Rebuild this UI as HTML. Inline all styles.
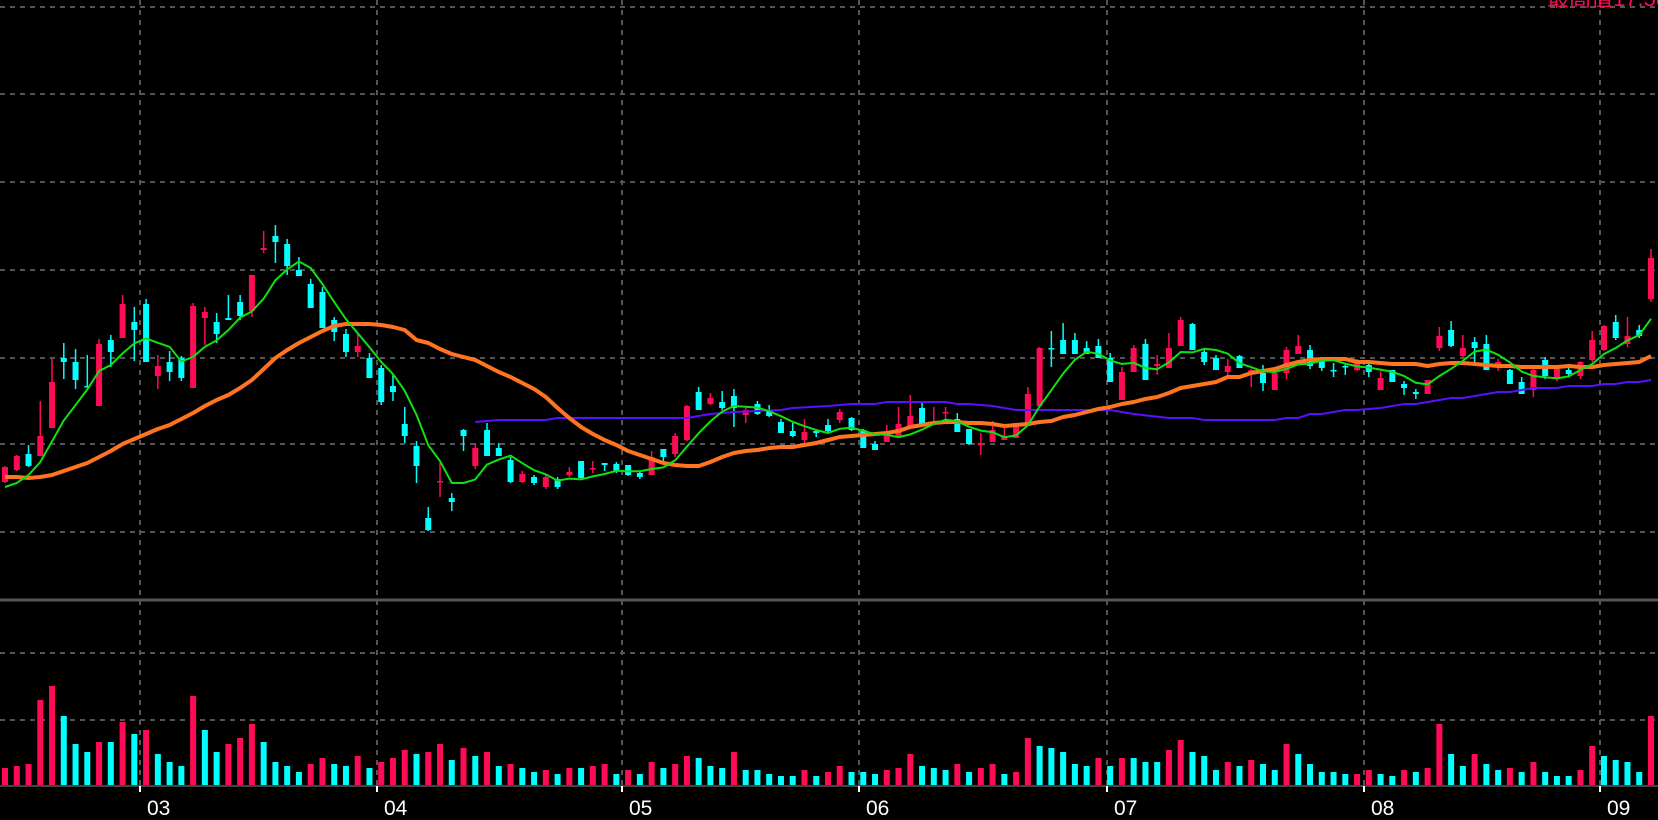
<!DOCTYPE html>
<html><head><meta charset="utf-8"><style>
html,body{margin:0;padding:0;background:#000;overflow:hidden}
svg{display:block}
</style></head><body>
<svg id="chart" width="1658" height="820" viewBox="0 0 1658 820" xmlns="http://www.w3.org/2000/svg">
<rect x="0" y="0" width="1658" height="820" fill="#000"/>
<g id="grid"></g>
<g id="vol"></g>
<g id="candles"></g>
<g id="lines"></g>
<g id="axis"></g>
<text x="1547" y="6" fill="#ff0a55" font-size="22" font-family="'Liberation Sans','Noto Sans CJK SC',sans-serif">最高值17.58</text>
</svg>
<script>
const opens=[118,130,146,144,172,242,238,214,194,260,262,278,296,224,238,242,212,282,278,282,298,289,350,364,356,330,316,308,280,266,248,242,232,214,176,154,82,118,102,170,134,170,152,140,118,123,113,121,125,139,131,137,136,135,127,125,151,146,160,208,196,198,204,185,196,190,178,169,160,169,175,180,182,170,156,158,163,174,192,176,187,181,171,155,158,160,162,174,194,252,260,260,252,254,242,200,228,256,234,232,254,276,248,242,228,244,228,227,210,227,246,250,240,230,234,230,235,210,230,216,208,206,252,270,244,258,256,234,230,218,210,240,222,230,224,240,250,278,256,270,301];
const highs=[134,145,155,199,241,257,251,245,261,265,305,293,301,245,249,244,297,293,287,305,305,325,369,375,361,343,321,313,283,271,267,247,235,225,193,159,93,137,107,171,157,177,157,143,129,125,125,123,133,139,139,137,138,135,129,149,151,167,195,213,207,209,211,193,199,195,181,177,181,171,181,191,183,171,159,175,193,205,197,193,193,187,171,167,179,173,177,213,253,269,277,267,259,261,247,233,255,261,245,267,283,277,250,245,241,245,231,235,227,253,265,255,243,237,237,241,237,229,230,219,211,220,273,279,265,263,265,241,231,223,235,243,235,235,239,269,275,285,283,275,351];
const lows=[117,129,133,144,172,221,211,213,194,233,262,239,238,211,219,219,212,255,257,280,280,283,347,337,325,324,292,272,259,243,243,222,195,199,157,117,69,103,89,149,131,144,144,117,117,115,111,111,123,121,127,129,127,124,121,125,139,143,159,190,195,190,173,177,185,183,167,163,157,163,167,177,169,152,150,158,163,174,176,176,180,168,155,145,158,160,162,174,194,233,246,246,246,242,218,200,228,220,225,232,254,250,235,230,224,232,213,209,210,221,246,231,229,223,225,229,223,210,218,205,201,206,249,253,243,238,230,229,216,206,203,221,219,224,221,238,249,260,253,262,298];
const closes=[133,144,134,164,218,238,220,213,256,248,296,270,238,234,228,222,294,288,266,280,284,325,352,358,334,324,292,272,268,248,254,222,198,208,164,134,70,119,98,164,152,144,144,118,126,117,123,113,128,122,132,135,129,125,123,143,143,164,194,190,202,192,192,190,186,184,167,164,168,167,169,188,170,152,150,166,176,184,176,178,188,168,156,157,170,163,177,206,252,251,246,246,246,242,218,228,252,220,236,252,280,250,238,230,234,232,230,217,227,250,254,234,232,229,233,240,228,222,218,212,206,220,264,254,252,252,230,238,216,206,230,224,232,226,238,260,274,262,264,264,342];
const volumes=[17,19,21,85,99,69,41,33,43,43,63,51,55,31,23,19,89,55,33,41,47,61,43,23,19,13,21,27,21,19,29,17,23,27,35,31,33,41,25,37,29,33,19,21,17,13,15,11,17,17,19,21,11,15,11,23,17,21,29,27,19,17,33,15,15,11,9,9,15,9,13,19,13,13,11,15,17,31,19,17,15,21,13,17,21,11,13,47,39,37,33,21,19,27,19,27,27,23,23,35,45,33,29,15,23,19,25,21,15,41,31,21,13,13,11,11,15,11,9,15,13,17,61,31,19,31,21,15,17,13,23,13,9,9,15,39,29,25,23,13,69];
const volDir=["r","r","r","r","r","c","c","c","r","c","r","c","r","c","c","c","r","c","c","r","r","r","c","c","c","c","r","r","c","c","r","c","r","r","r","c","r","r","c","r","c","r","c","r","c","c","r","c","r","c","r",
"r","c","r","c","r","c","r","r","c","c","c","r","c","c","c","c","c","r","c","r","r","c","c","c","r","r","r","c","c","c",
"r","c","r","r","c","r","r","c","c","c","c","c","r","c","r","c","c","c","r","r","c","c","c","r","c","r","c","c","r","c",
"c","c","c","c","r","r","c","c","r","c","r","r","c","c","r","c","c","r","c","r","c","c","c","r","r","c","c","c","c","r"];
const ma5Head=[113,117,125,138];
const ma20=[123,123,122,123,125,129,133,137,143,149,156,161,166,171,175,181,187,194,200,205,212,220,231,242,250,257,263,269,274,276,276,276,275,273,270,260,257,251,246,243,240,234,228,223,217,211,203,192,182,173,166,160,155,149,145,141,137,135,134,134,138,143,147,149,150,152,153,153,155,157,160,163,164,165,166,167,169,173,175,177,178,178,177,177,176,174,175,176,178,179,183,185,188,191,193,196,198,201,203,207,212,214,216,218,223,223,227,229,231,235,238,240,241,241,241,238,238,237,236,236,236,234,236,237,237,236,235,234,234,233,233,233,233,234,233,233,235,236,237,238,244];
const longMaIdx=[40,42,46,47,58,60,62,66,67,70,72,74,75,80,81,82,84,86,94,95,96,99,101,102,105,108,109,110,111,112,114,115,117,119,120,123,124,127,128,129,130,132,133,135,136,137,138,139,140];
const longMaVal=[178,180,180,182,182,186,188,190,192,194,196,196,198,198,196,196,194,190,190,188,186,182,182,180,180,180,182,182,186,186,190,190,192,196,196,202,202,208,208,210,212,212,214,214,216,216,218,218,220];
const months=["03","04","05","06","07","08","09"];
const monthIdx=[11.5,31.6,52.5,72.6,93.7,115.6,135.7];

const NS="http://www.w3.org/2000/svg";
const X0=5, STEP=11.757;
function xS(i){return X0+i*STEP;}
function yP(p){return 600-p;}
function yV(v){return 785-v;}
function mk(tag,attrs,parent){const e=document.createElementNS(NS,tag);for(const k in attrs)e.setAttribute(k,attrs[k]);parent.appendChild(e);return e;}
const RED="#ff0a55", CYAN="#00ffff";

const grid=document.getElementById('grid');
[7,94,182,270,358,444,532,653,720].forEach(function(y){
  const l=mk('line',{x1:0,x2:1658,y1:y,y2:y,stroke:'#555','stroke-width':2,'stroke-dasharray':'5,5'},grid);
  
  
});
monthIdx.forEach(function(mi){
  const x=Math.round(xS(mi));
  const l=mk('line',{x1:x,x2:x,y1:0,y2:785,stroke:'#555','stroke-width':2,'stroke-dasharray':'5,5'},grid);
  
  
});
const sep=mk('line',{x1:0,x2:1658,y1:600,y2:600,stroke:'#555','stroke-width':3},grid);



const vol=document.getElementById('vol');
volumes.forEach(function(v,i){
  const r=mk('rect',{x:xS(i)-3,y:yV(v),width:6,height:v,fill:volDir[i]==='r'?RED:CYAN},vol);
  
  
});
const base=mk('line',{x1:0,x2:1658,y1:786,y2:786,stroke:'#444','stroke-width':2},vol);



const cg=document.getElementById('candles');
opens.forEach(function(o,i){
  const c=closes[i], up=c>=o, col=up?RED:CYAN, x=xS(i);
  const g=mk('g',{},cg);
  
  
  mk('line',{x1:x,x2:x,y1:yP(highs[i]),y2:yP(lows[i]),stroke:col,'stroke-width':1.5},g);
  const top=yP(Math.max(o,c)), h=Math.max(1.5,Math.abs(c-o));
  mk('rect',{x:x-3,y:top,width:6,height:h,fill:col},g);
});

const lg=document.getElementById('lines');
const ma5=closes.map(function(c,i){
  if(i<4) return ma5Head[i];
  let s=0; for(let k=i-4;k<=i;k++) s+=closes[k]; return s/5;
});
function path(idx,vals){return vals.map(function(v,j){return (j?'L':'M')+xS(idx[j]).toFixed(1)+','+yP(v).toFixed(1);}).join('');}
const allIdx=closes.map(function(_,i){return i;});
const pl=mk('path',{d:path(longMaIdx,longMaVal),fill:'none',stroke:'#5a10ff','stroke-width':2},lg);


const po=mk('path',{d:path(allIdx,ma20),fill:'none',stroke:'#ff7420','stroke-width':4,'stroke-linejoin':'round'},lg);


const pg=mk('path',{d:path(allIdx,ma5),fill:'none',stroke:'#10e010','stroke-width':2},lg);



const ax=document.getElementById('axis');
months.forEach(function(m,j){
  const x=Math.round(xS(monthIdx[j]));
  const t=mk('line',{x1:x,x2:x,y1:786,y2:792,stroke:'#fff','stroke-width':2},ax);
  
  
  const tx=mk('text',{x:x+7,y:815,fill:'#fff','font-size':21,'font-family':"'Liberation Sans',sans-serif"},ax);
  tx.textContent=m;
  
  
});
</script>
</body></html>
